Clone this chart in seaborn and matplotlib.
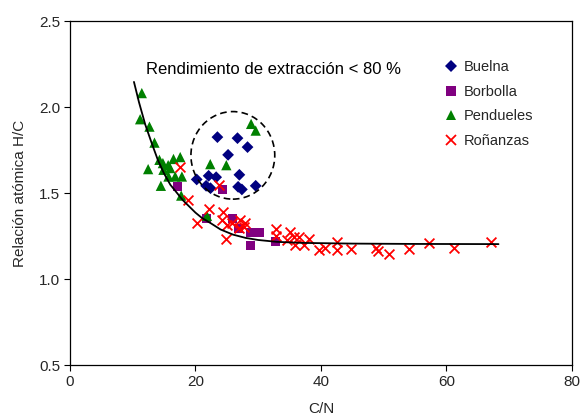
import matplotlib
matplotlib.use("Agg")
import matplotlib.pyplot as plt
from matplotlib.lines import Line2D
from matplotlib.patches import Ellipse
import seaborn as sns
import pandas as pd

# ---------------- data ----------------
buelna_cn = [23.5, 26.7, 28.3, 25.2, 27.0, 22.1, 20.2, 23.3, 21.7, 22.4, 26.8, 27.4, 29.6]
buelna_hc = [1.827, 1.821, 1.769, 1.724, 1.608, 1.602, 1.581, 1.594, 1.544, 1.530, 1.538, 1.523, 1.544]

borbolla_cn = [17.1, 24.3, 21.8, 25.9, 26.9, 28.8, 30.2, 28.8, 32.8]
borbolla_hc = [1.541, 1.520, 1.356, 1.356, 1.298, 1.270, 1.272, 1.198, 1.221]

pendueles_cn = [11.45, 11.18, 12.67, 13.47, 12.46, 14.26, 14.49, 14.90, 15.97, 16.50,
                17.57, 15.70, 16.77, 17.84, 14.81, 17.73, 15.65, 21.84, 22.36, 24.92,
                28.87, 29.60]
pendueles_hc = [2.083, 1.931, 1.888, 1.795, 1.641, 1.695, 1.544, 1.637, 1.647, 1.700,
                1.711, 1.598, 1.598, 1.598, 1.676, 1.487, 1.664, 1.369, 1.670, 1.664,
                1.904, 1.865]

ronanzas_cn = [17.57, 18.77, 20.24, 22.09, 23.69, 24.39, 24.23, 25.03, 24.92, 25.83,
               27.16, 27.96, 26.89, 27.68, 32.91, 32.83, 35.14, 35.67, 34.62, 36.47,
               38.07, 35.94, 37.27, 39.66, 40.65, 42.49, 42.57, 44.81, 48.72, 49.04,
               50.85, 54.04, 57.24, 61.13, 67.09]
ronanzas_hc = [1.652, 1.462, 1.328, 1.408, 1.549, 1.394, 1.343, 1.317, 1.234, 1.327,
               1.346, 1.327, 1.298, 1.307, 1.292, 1.253, 1.278, 1.249, 1.230, 1.249,
               1.234, 1.201, 1.201, 1.172, 1.181, 1.220, 1.168, 1.176, 1.181, 1.166,
               1.148, 1.176, 1.210, 1.185, 1.216]

# trend curve
trend_cn = [10.2, 11.0, 12.0, 13.0, 14.0, 15.0, 16.0, 17.0, 18.0, 19.0, 20.0, 21.0,
            22.5, 24.0, 26.0, 28.0, 30.0, 33.0, 37.0, 45.0, 55.0, 68.3]
trend_hc = [2.148, 2.03, 1.90, 1.795, 1.695, 1.615, 1.55, 1.505, 1.46, 1.424, 1.388,
            1.358, 1.325, 1.29, 1.26, 1.241, 1.229, 1.218, 1.212, 1.208, 1.206, 1.205]

series_names = ["Buelna", "Borbolla", "Pendueles", "Roñanzas"]
x_ticks = [0, 20, 40, 60, 80]
y_ticks = [0.5, 1.0, 1.5, 2.0, 2.5]
annotation = "Rendimiento de extracción < 80 %"

# ---------------- figure ----------------
sns.set_theme(style="white")
plt.rcParams["font.family"] = ["Liberation Sans", "DejaVu Sans"]

fig = plt.figure(figsize=(5.83, 4.19), dpi=100)
ax = fig.add_axes([0.120, 0.128, 0.861, 0.821])

colors = {"Buelna": "#000080", "Borbolla": "#800080", "Pendueles": "#008000", "Roñanzas": "#FF0000"}
markers = {"Buelna": "D", "Borbolla": "s", "Pendueles": "^", "Roñanzas": "x"}
sizes = {"Buelna": 36, "Borbolla": 42, "Pendueles": 55, "Roñanzas": 50}

data = {
    "Buelna": (buelna_cn, buelna_hc),
    "Borbolla": (borbolla_cn, borbolla_hc),
    "Pendueles": (pendueles_cn, pendueles_hc),
    "Roñanzas": (ronanzas_cn, ronanzas_hc),
}

for name in series_names:
    df = pd.DataFrame({"cn": data[name][0], "hc": data[name][1]})
    if markers[name] == "x":
        sns.scatterplot(data=df, x="cn", y="hc", ax=ax, marker="x", color=colors[name],
                        s=sizes[name], linewidth=1.3, zorder=3)
    else:
        sns.scatterplot(data=df, x="cn", y="hc", ax=ax, marker=markers[name], color=colors[name],
                        s=sizes[name], linewidth=0, edgecolor="none", zorder=3)

tdf = pd.DataFrame({"cn": trend_cn, "hc": trend_hc})
sns.lineplot(data=tdf, x="cn", y="hc", ax=ax, color="black", linewidth=1.3, sort=False, zorder=4)

ell = Ellipse((25.96, 1.721), width=13.36, height=0.509, fill=False, edgecolor="black",
              linestyle=(0, (4, 2.5)), linewidth=1.2, zorder=5)
ax.add_patch(ell)

ax.text(32.4, 2.218, annotation, ha="center", va="center", fontsize=12, color="black")

ax.set_xlim(0, 80)
ax.set_ylim(0.5, 2.5)
ax.set_xticks(x_ticks)
ax.set_yticks(y_ticks)
ax.set_xticklabels([str(v) for v in x_ticks], fontsize=11)
ax.set_yticklabels([f"{v:.1f}" for v in y_ticks], fontsize=11)
ax.tick_params(axis="both", direction="out", length=4, width=0.8, color="black",
               bottom=True, left=True, pad=3)
ax.set_xlabel("C/N", fontsize=11, labelpad=9)
ax.set_ylabel("Relación atómica H/C", fontsize=11, labelpad=9)
for sp in ax.spines.values():
    sp.set_color("black")
    sp.set_linewidth(0.9)

handles = [Line2D([], [], linestyle="none", marker=markers[n], color=colors[n],
                  markersize=6.5 if n != "Pendueles" else 7.5,
                  markeredgewidth=1.3 if n == "Roñanzas" else 0) for n in series_names]
ax.legend(handles, series_names, loc="upper left", bbox_to_anchor=(0.735, 0.905),
          frameon=False, fontsize=10.5, handlelength=0.8, handletextpad=0.5,
          labelspacing=0.74, borderaxespad=0)

fig.savefig("out.png", dpi=100)
